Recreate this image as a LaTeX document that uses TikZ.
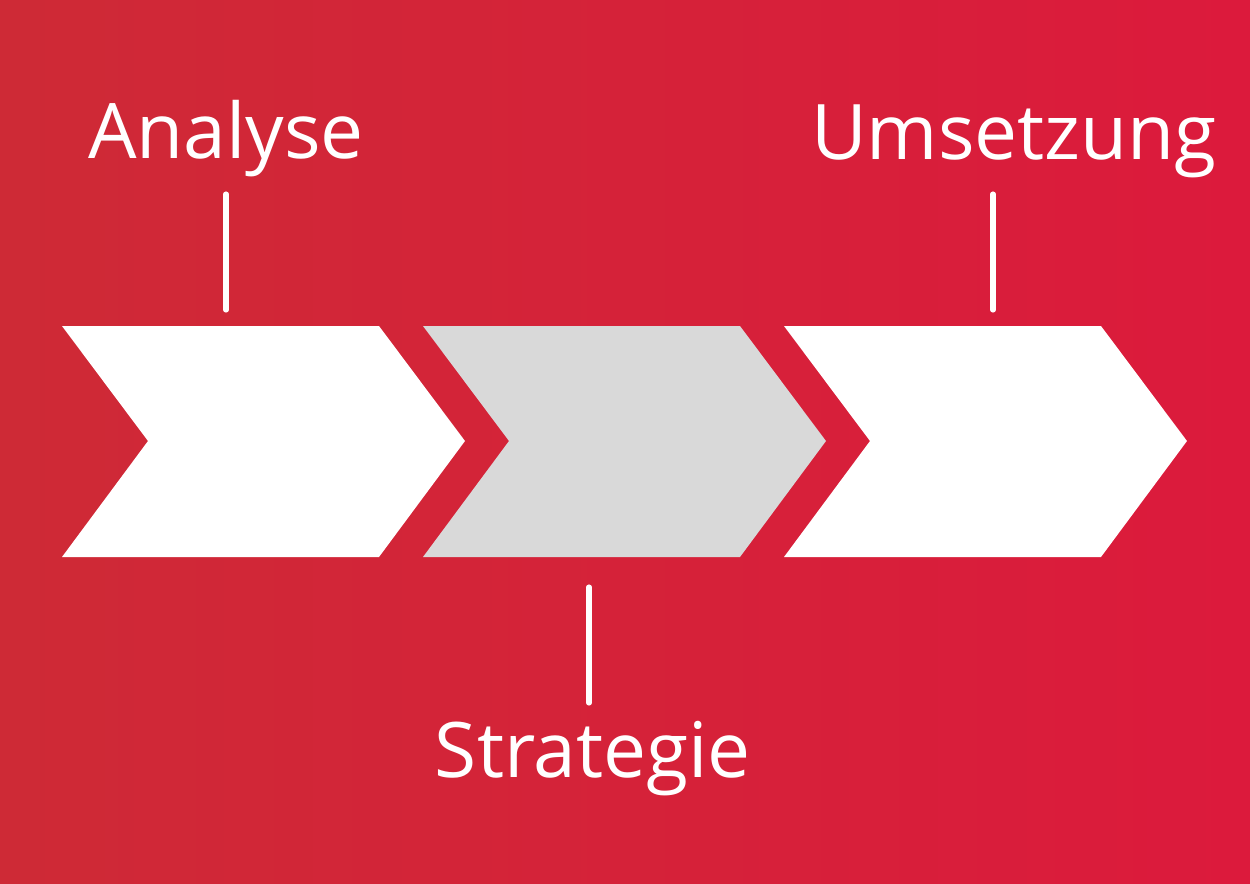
\documentclass[tikz,border=0pt]{standalone}
\usepackage{fontspec}
\setmainfont{Open Sans}
\definecolor{redleft}{HTML}{CE2A36}
\definecolor{redright}{HTML}{DC1A3C}
\definecolor{stepgray}{HTML}{D9D9D9}

\tikzstyle{label} = [text=white, font=\fontsize{21.8}{26}\selectfont, anchor=base]
\tikzstyle{tick} = [draw=white, line width=1.45pt, line cap=round]

\begin{document}
\begin{tikzpicture}[x=0.01cm, y=-0.01cm]
    % background
    \fill[left color=redleft, right color=redright] (0,0) rectangle (1250,884);
    \useasboundingbox (0,0) rectangle (1250,884);
    % chevrons
    \foreach \x/\col/\name in {0/white/ana, 361/stepgray/str, 722/white/ums} {
        \fill[\col] (62+\x,326) -- (379+\x,326) -- (465+\x,441) -- (379+\x,557)
            -- (62+\x,557) -- (148+\x,441) -- cycle;
        \coordinate (\name-top) at (220.5+\x,310);
        \coordinate (\name-bot) at (220.5+\x,587);
    }
    % labels
    \node[label] (analyse) at (226,158) {Analyse};
    \node[label] (umsetzung) at (1014,159) {Umsetzung};
    \node[label] (strategie) at (593,777) {Strategie};
    \coordinate (analyse-foot) at (226,194);
    \coordinate (umsetzung-foot) at (993,194);
    \coordinate (strategie-head) at (589,703);
    \draw[tick] (analyse-foot) -- (analyse-foot |- ana-top);
    \draw[tick] (umsetzung-foot) -- (umsetzung-foot |- ums-top);
    \draw[tick] (strategie-head) -- (strategie-head |- str-bot);
\end{tikzpicture}
\end{document}
